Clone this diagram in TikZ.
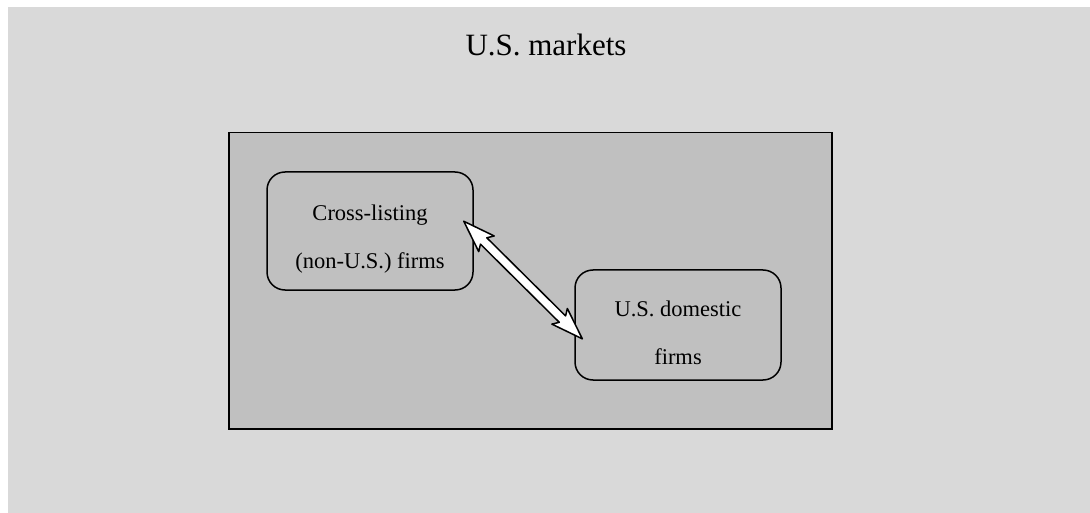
\documentclass[tikz,border=0pt]{standalone}
\usepackage{fontspec}
\setmainfont{Liberation Serif}
\usetikzlibrary{calc}
\definecolor{outerbg}{HTML}{D9D9D9}
\definecolor{innerbg}{HTML}{C0C0C0}
\newcommand{\toppad}{\rule{0pt}{32pt}}
\tikzset{
  firmbox/.style={draw=black, line width=1.5pt, rounded corners=18pt, fill=innerbg,
    minimum width=206pt, align=center, inner sep=0pt,
    font=\fontsize{22.5}{48}\selectfont},
  linkarrow/.style={draw=black, fill=white, line width=1.5pt, line join=round}
}
\begin{document}
\begin{tikzpicture}[x=1pt,y=-1pt]
\useasboundingbox (0,0) rectangle (1090,513);
\fill[white] (0,0) rectangle (1090,513);
\fill[outerbg] (8,7) rectangle (1090,513);
\node[font=\fontsize{31}{36}\selectfont] (title) at (546,45) {U.S. markets};
\node[draw=black, fill=innerbg, line width=1.5pt, minimum width=603pt, minimum height=296pt,
  anchor=north west, inner sep=0pt] (market) at (228,132) {};
\node[firmbox, minimum height=118pt] (cross) at (370,231) {\toppad Cross-listing\\(non-U.S.) firms};
\node[firmbox, minimum height=110pt] (dom) at (678,325) {\toppad U.S. domestic\\firms};
\coordinate (t1) at ($(cross.north east)+(-10,50)$);
\coordinate (t2) at ($(dom.north west)+(6,69)$);
% double-headed block arrow from t1 to t2 (length 167)
\begin{scope}[shift={(t1)}, rotate=-44.76]
  \draw[linkarrow] (0,0) -- (32,11) -- (28,4.5) -- (139,4.5) -- (135,11) -- (167,0)
    -- (135,-11) -- (139,-4.5) -- (28,-4.5) -- (32,-11) -- cycle;
\end{scope}
\end{tikzpicture}
\end{document}
